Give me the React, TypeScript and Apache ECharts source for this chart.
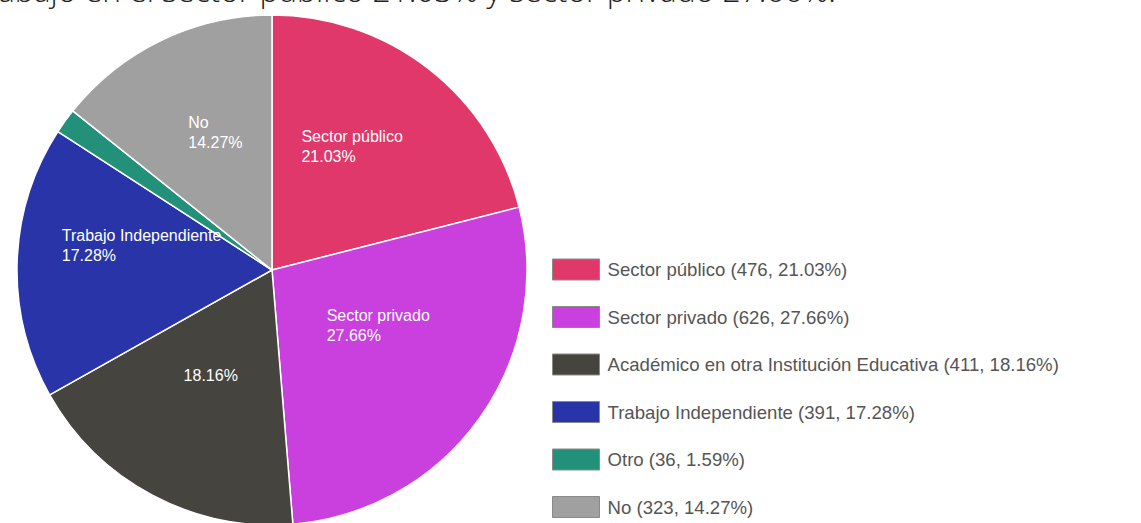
import React, { useEffect, useRef } from "react";
import * as echarts from "echarts";

const titleText = "abajo en el sector público 21.03% y sector privado 27.66%.";
const categories = [
  "Sector público",
  "Sector privado",
  "Académico en otra Institución Educativa",
  "Trabajo Independiente",
  "Otro",
  "No",
];
const counts = [476, 626, 411, 391, 36, 323];
const colors = ["#E0386B", "#C940DF", "#46443F", "#2834A8", "#23917A", "#A0A0A0"];
// which slices show their name inside the pie, and which show a label at all
const showName = [true, true, false, true, false, true];
const showLabel = [true, true, true, true, false, true];

export default function App() {
  const ref = useRef<HTMLDivElement>(null);
  useEffect(() => {
    if (!ref.current) return;
    const chart = echarts.init(ref.current, undefined, { renderer: "svg" });
    const total = counts.reduce((a, b) => a + b, 0);
    const pct = (v: number) => ((v / total) * 100).toFixed(2) + "%";
    const data = categories.map((name, i) => ({
      name,
      value: counts[i],
      itemStyle: { color: colors[i] },
      label: {
        show: showLabel[i],
        padding: showName[i] ? [0, 0, 40, 0] : [0, 0, 20, 0],
        formatter: () =>
          showName[i]
            ? `{a|${name}}\n{a|${pct(counts[i])}}`
            : `{a|${pct(counts[i])}}`,
      },
    }));
    chart.setOption({
      animation: false,
      graphic: [
        {
          type: "text",
          left: -2,
          top: -27,
          style: {
            text: titleText,
            fontFamily: "Open Sans",
            fontWeight: 300,
            fontSize: 31.8,
            fill: "#222",
          },
        },
      ],
      legend: {
        orient: "vertical",
        left: 547,
        top: 253.5,
        height: 400,
        itemWidth: 47,
        itemHeight: 21,
        itemGap: 25.5,
        icon: "rect",
        selectedMode: false,
        itemStyle: { borderColor: "#8a8a8a", borderWidth: 1 },
        textStyle: {
          fontFamily: "Liberation Sans, Arial, sans-serif",
          fontSize: 18.6,
          color: "#555",
          padding: [0, 0, 0, 3],
        },
        formatter: (name: string) => {
          const i = categories.indexOf(name);
          return `${name} (${counts[i]}, ${pct(counts[i])})`;
        },
        data: categories,
      },
      series: [
        {
          type: "pie",
          center: [272, 270],
          radius: 255,
          startAngle: 90,
          clockwise: true,
          avoidLabelOverlap: false,
          itemStyle: { borderColor: "#fff", borderWidth: 1.5 },
          label: {
            position: "inside",
            color: "#fff",
            fontFamily: "Liberation Sans, Arial, sans-serif",
            fontSize: 16,
            rich: {
              a: {
                align: "left",
                color: "#fff",
                fontFamily: "Liberation Sans, Arial, sans-serif",
                fontSize: 16,
                lineHeight: 20,
              },
            },
          },
          labelLine: { show: false },
          emphasis: { disabled: true },
          data,
        },
      ],
    });
    return () => chart.dispose();
  }, []);
  return (
    <div
      ref={ref}
      style={{ position: "fixed", left: 0, top: 0, width: 1141, height: 523, background: "#fff" }}
    />
  );
}
